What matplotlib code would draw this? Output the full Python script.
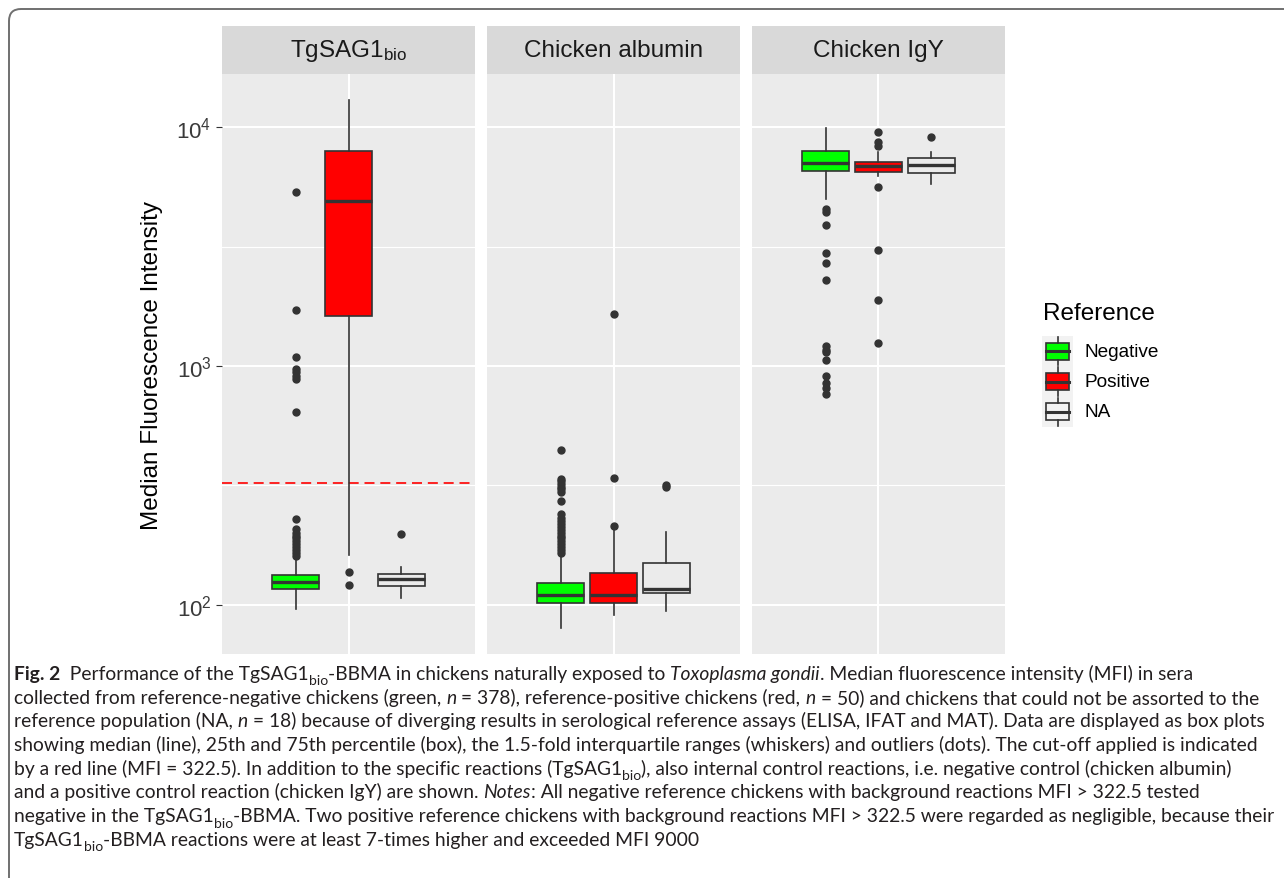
import numpy as np
import matplotlib
matplotlib.use("Agg")
import matplotlib.pyplot as plt
from matplotlib.patches import Rectangle, PathPatch
from matplotlib.path import Path

plt.rcParams['font.family'] = ['Liberation Sans', 'DejaVu Sans']
plt.rcParams['mathtext.fontset'] = 'custom'
plt.rcParams['mathtext.rm'] = 'Liberation Sans'
plt.rcParams['mathtext.it'] = 'Liberation Sans:italic'
plt.rcParams['mathtext.bf'] = 'Liberation Sans:bold'

# ---- data ----
panels = ["TgSAG1$_{\\mathrm{bio}}$", "Chicken albumin", "Chicken IgY"]
groups = ["Negative", "Positive", "NA"]
fills = ["#00FF00", "#FF0000", "none"]
cutoff = 322.5

# box stats per group: whisker low, q1, median, q3, whisker high
tg_boxes = [[96, 117, 125, 134, 154],
            [162, 1619, 4900, 7943, 12970],
            [107, 120, 128, 135, 144]]
tg_outliers = [[160, 165, 170, 175, 180, 185, 190, 195, 200, 208, 229,
                642, 883, 910, 940, 971, 1091, 1716, 5346],
               [121, 137],
               [198]]

alb_boxes = [[80, 102, 110, 124, 160],
             [91, 102, 110, 136, 205],
             [94, 112, 116, 150, 202]]
alb_outliers = [[165, 170, 175, 180, 185, 190, 195, 200, 206, 212, 218, 225,
                 232, 240, 272, 297, 306, 313, 321, 330, 337, 447],
                [214, 340, 1650],
                [310, 318]]

igy_boxes = [[5000, 6550, 7065, 7943, 9900],
             [6240, 6490, 6870, 7140, 7850],
             [5780, 6430, 6940, 7410, 7850]]
igy_outliers = [[764, 809, 849, 908, 1060, 1140, 1170, 1210, 2290, 2700,
                 2970, 3890, 4400, 4540],
                [1248, 1888, 3057, 5610, 8330, 8650, 9530],
                [9080]]

all_boxes = [tg_boxes, alb_boxes, igy_boxes]
all_outliers = [tg_outliers, alb_outliers, igy_outliers]

caption = [
    [("Fig. 2", "b"), ("  Performance of the TgSAG1", "r"), ("bio", "sub"),
     ("-BBMA in chickens naturally exposed to ", "r"), ("Toxoplasma gondii", "i"),
     (". Median fluorescence intensity (MFI) in sera", "r")],
    [("collected from reference-negative chickens (green, ", "r"), ("n", "i"),
     (" = 378), reference-positive chickens (red, ", "r"), ("n", "i"),
     (" = 50) and chickens that could not be assorted to the", "r")],
    [("reference population (NA, ", "r"), ("n", "i"),
     (" = 18) because of diverging results in serological reference assays (ELISA, IFAT and MAT). Data are displayed as box plots", "r")],
    [("showing median (line), 25th and 75th percentile (box), the 1.5-fold interquartile ranges (whiskers) and outliers (dots). The cut-off applied is indicated", "r")],
    [("by a red line (MFI = 322.5). In addition to the specific reactions (TgSAG1", "r"), ("bio", "sub"),
     ("), also internal control reactions, i.e. negative control (chicken albumin)", "r")],
    [("and a positive control reaction (chicken IgY) are shown. ", "r"), ("Notes", "i"),
     (": All negative reference chickens with background reactions MFI > 322.5 tested", "r")],
    [("negative in the TgSAG1", "r"), ("bio", "sub"),
     ("-BBMA. Two positive reference chickens with background reactions MFI > 322.5 were regarded as negligible, because their", "r")],
    [("TgSAG1", "r"), ("bio", "sub"), ("-BBMA reactions were at least 7-times higher and exceeded MFI 9000", "r")],
]

# ---- figure ----
W, H = 1284, 879
fig = plt.figure(figsize=(W / 100, H / 100), dpi=100)
fig.patch.set_facecolor('white')

def fx(px):
    return px / W

def fy(py):
    return 1 - py / H

lefts = [222, 487, 752]
pw, ptop, pbot = 253, 75, 655
strip_top = 27
positions = [-0.25, 0.0, 0.25]
edge = '#333333'

for k in range(3):
    ax = fig.add_axes([fx(lefts[k]), fy(pbot), pw / W, (pbot - ptop) / H])
    ax.set_facecolor('#EBEBEB')
    ax.set_yscale('log')

    stats = []
    for b, o in zip(all_boxes[k], all_outliers[k]):
        stats.append(dict(whislo=b[0], q1=b[1], med=b[2], q3=b[3], whishi=b[4], fliers=o))
    bp = ax.bxp(stats, positions=positions, widths=0.223, patch_artist=True, showcaps=False,
                manage_ticks=False,
                boxprops=dict(edgecolor=edge, linewidth=1.2),
                medianprops=dict(color=edge, linewidth=2.4),
                whiskerprops=dict(color=edge, linewidth=1.2),
                flierprops=dict(marker='o', markerfacecolor=edge,
                                markeredgecolor=edge, markersize=5))
    for patch, c in zip(bp['boxes'], fills):
        patch.set_facecolor(c)
    for el in bp['boxes'] + bp['medians'] + bp['whiskers'] + bp['fliers']:
        el.set_zorder(3)

    ax.set_xlim(-0.6, 0.6)
    ax.set_ylim(10 ** 1.7945, 10 ** 4.222)
    ax.set_yticks([1e2, 1e3, 1e4])
    ax.set_yticks([10 ** 2.5, 10 ** 3.5], minor=True)
    ax.set_xticks([0])
    ax.set_xticks([], minor=True)
    ax.set_xticklabels([])
    ax.yaxis.grid(True, which='major', color='white', lw=1.5)
    ax.yaxis.grid(True, which='minor', color='white', lw=0.8)
    ax.xaxis.grid(True, which='major', color='white', lw=1.5)
    ax.set_axisbelow(True)
    for s in ax.spines.values():
        s.set_visible(False)
    ax.tick_params(axis='x', length=0)
    ax.tick_params(axis='y', which='minor', length=0, labelleft=False)
    if k == 0:
        ax.set_yticklabels(['$10^{2}$', '$10^{3}$', '$10^{4}$'])
        ax.tick_params(axis='y', which='major', length=4, width=0.8, color=edge,
                       pad=3.6, labelsize=16, labelcolor='#3A3A3A')
        ax.axhline(cutoff, color='#FF0000', lw=1.2, ls=(0, (6, 3.5)), zorder=1.5)
    else:
        ax.tick_params(axis='y', which='major', length=0, labelleft=False)

    # facet strip
    sax = fig.add_axes([fx(lefts[k]), fy(ptop), pw / W, (ptop - strip_top) / H])
    sax.set_facecolor('#D9D9D9')
    sax.set_xticks([])
    sax.set_yticks([])
    for s in sax.spines.values():
        s.set_visible(False)
    sax.text(0.5, 0.5, panels[k], ha='center', va='center', fontsize=17.5,
             color='#1A1A1A', transform=sax.transAxes)

fig.text(fx(152), fy((ptop + pbot) / 2), 'Median Fluorescence Intensity', rotation=90,
         ha='center', va='center', fontsize=17.5, color='black')

# ---- legend ----
fig.text(fx(1043), fy(314), 'Reference', ha='left', va='center', fontsize=17.5)
lax = fig.add_axes([fx(1042), fy(428), 31 / W, 91 / H])
lax.set_xlim(1042, 1073)
lax.set_ylim(428, 337)
lax.axis('off')
key_h = 91 / 3
for i, (g, c) in enumerate(zip(groups, fills)):
    y0 = 337 + i * key_h
    lax.add_patch(Rectangle((1042, y0), 31, key_h, facecolor='#F2F2F2', edgecolor='none'))
    cy = y0 + key_h / 2
    lax.add_patch(Rectangle((1046, cy - 8.5), 23, 17, facecolor=c, edgecolor=edge, lw=1.2))
    lax.plot([1046, 1069], [cy, cy], color=edge, lw=2.2)
    lax.plot([1057.5, 1057.5], [y0 + 1, cy - 8.5], color=edge, lw=1.2)
    lax.plot([1057.5, 1057.5], [cy + 8.5, y0 + key_h - 1], color=edge, lw=1.2)
    fig.text(fx(1085), fy(cy), g, ha='left', va='center', fontsize=13.7)

# ---- frame ----
frame = Path([(fx(9), fy(879)), (fx(9), fy(22)), (fx(9), fy(10)), (fx(21), fy(10)), (fx(1284), fy(10))],
             [Path.MOVETO, Path.LINETO, Path.CURVE3, Path.CURVE3, Path.LINETO])
fig.add_artist(PathPatch(frame, facecolor='none', edgecolor='#707070', lw=1.4,
                         transform=fig.transFigure))

# ---- caption ----
renderer = fig.canvas.get_renderer()
cap_font = ['Lato', 'DejaVu Sans']
cap_color = '#231F20'

def run_kw(style, size):
    kw = dict(fontsize=size, family=cap_font, color=cap_color)
    if style == 'b':
        kw['weight'] = 'bold'
    elif style == 'i':
        kw['style'] = 'italic'
    elif style == 'sub':
        kw['fontsize'] = size * 0.72
    return kw

def measure(txt, kw):
    t1 = fig.text(0, 0, '|' + txt + '|', **kw)
    t2 = fig.text(0, 0, '||', **kw)
    w = t1.get_window_extent(renderer).width - t2.get_window_extent(renderer).width
    t1.remove()
    t2.remove()
    return w

def line_width(runs, size):
    return sum(measure(t, run_kw(s, size)) for t, s in runs)

# size chosen so the widest full line spans the caption width
widest = max(line_width(r, 10) for r in caption[:-1])
size = 10 * 1262 / widest

x0, base0, step = 14, 680, 23.7
for i, runs in enumerate(caption):
    x = x0
    base = base0 + i * step
    for txt, style in runs:
        kw = run_kw(style, size)
        dy = size * 1.389 * 0.28 if style == 'sub' else 0
        fig.text(fx(x), fy(base + dy), txt, ha='left', va='baseline', **kw)
        x += measure(txt, kw)

fig.savefig('out.png', dpi=100)
